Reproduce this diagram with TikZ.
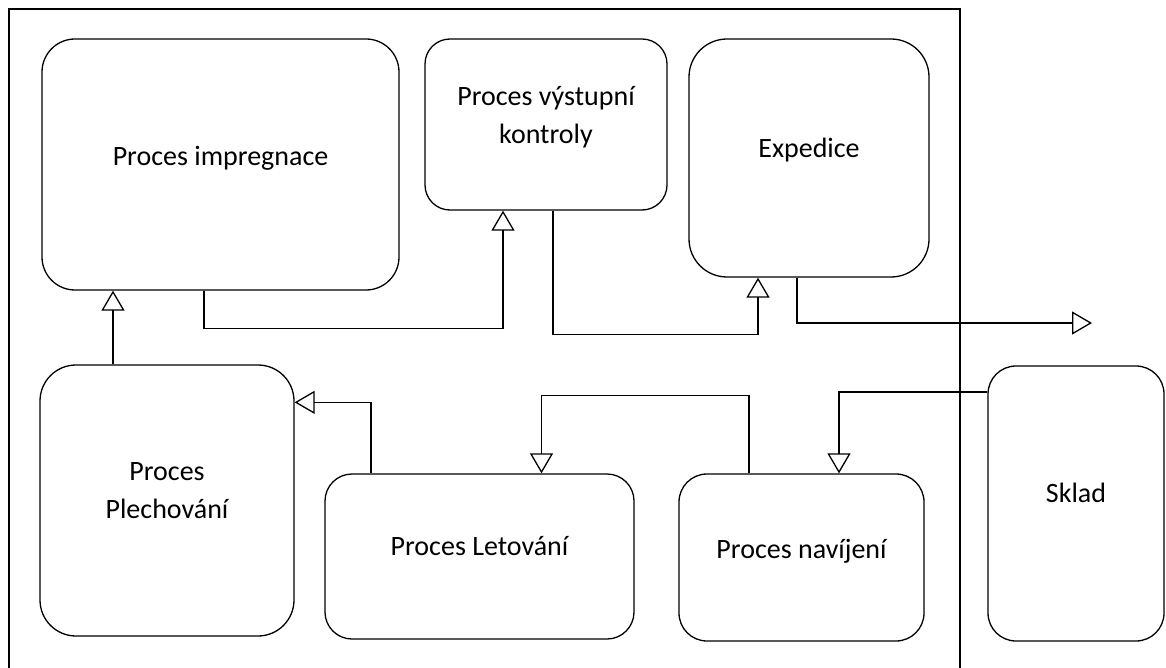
\documentclass[tikz,border=0pt]{standalone}
\usepackage{fontspec}
\setmainfont{Carlito}
\usetikzlibrary{arrows.meta,calc}

\tikzset{
  procbox/.style={draw, line width=1.3pt, inner sep=0pt, anchor=center},
  txt/.style={font=\fontsize{28}{38}\selectfont, align=center, inner sep=0pt},
  arr/.style={line width=1.3pt, -{Triangle[open, length=20pt, width=23pt]}},
  conn/.style={line width=1.3pt}
}

\begin{document}
\begin{tikzpicture}[x=1pt, y=-1pt]
  \useasboundingbox (0,0) rectangle (1166,668);
  \clip (0,0) rectangle (1166,668);

  % frame of the plant (open at the bottom)
  \draw[conn] (9,700) -- (9,9) -- (960,9) -- (960,700);

  % process boxes
  \node[procbox, rounded corners=33pt, minimum width=357pt, minimum height=251pt,
        label={[txt, yshift=6.5pt]center:Proces impregnace}] (imp) at (220.5,164.5) {};
  \node[procbox, rounded corners=25pt, minimum width=242pt, minimum height=171pt,
        label={[txt, yshift=7.5pt]center:Proces výstupní\\kontroly}] (kon) at (546,124.5) {};
  \node[procbox, rounded corners=38pt, minimum width=240pt, minimum height=238pt,
        label={[txt, yshift=8pt]center:Expedice}] (exp) at (809,158) {};
  \node[procbox, rounded corners=36pt, minimum width=254pt, minimum height=271pt,
        label={[txt, yshift=10pt]center:Proces\\Plechování}] (plech) at (167,500.5) {};
  \node[procbox, rounded corners=27pt, minimum width=309pt, minimum height=165pt,
        label={[txt, yshift=10pt]center:Proces Letování}] (let) at (479.5,556.5) {};
  \node[procbox, rounded corners=28pt, minimum width=245pt, minimum height=167pt,
        label={[txt, yshift=6.5pt]center:Proces navíjení}] (nav) at (801.5,557.5) {};
  \node[procbox, rounded corners=28pt, minimum width=176pt, minimum height=275pt,
        label={[txt, yshift=11pt]center:Sklad}] (sklad) at (1076,503.5) {};

  % free end of the outgoing flow
  \coordinate (out) at (1092,323);

  % flows
  \coordinate (p1) at ($(plech.north)+(-54,0)$);
  \draw[arr] (p1) -- (p1 |- imp.south);

  \draw[arr] ($(imp.south)+(-16.5,0)$) -- ++(0,38) -| ($(kon.south)+(-43,0)$);

  \draw[arr] ($(kon.south)+(7,0)$) -- ++(0,124) -| ($(exp.south)+(-51,0)$);

  \draw[arr] ($(exp.south)+(-12,0)$) |- (out);

  \draw[arr] ($(sklad.west)+(0,-111.5)$) -| ($(nav.north)+(37.5,0)$);

  \draw[arr] ($(nav.north)+(-52.5,0)$) -- ++(0,-78) -| ($(let.north)+(62,0)$);

  \draw[arr] ($(let.north)+(-108.5,0)$) |- ($(plech.north east)+(0,38)$);
\end{tikzpicture}
\end{document}
